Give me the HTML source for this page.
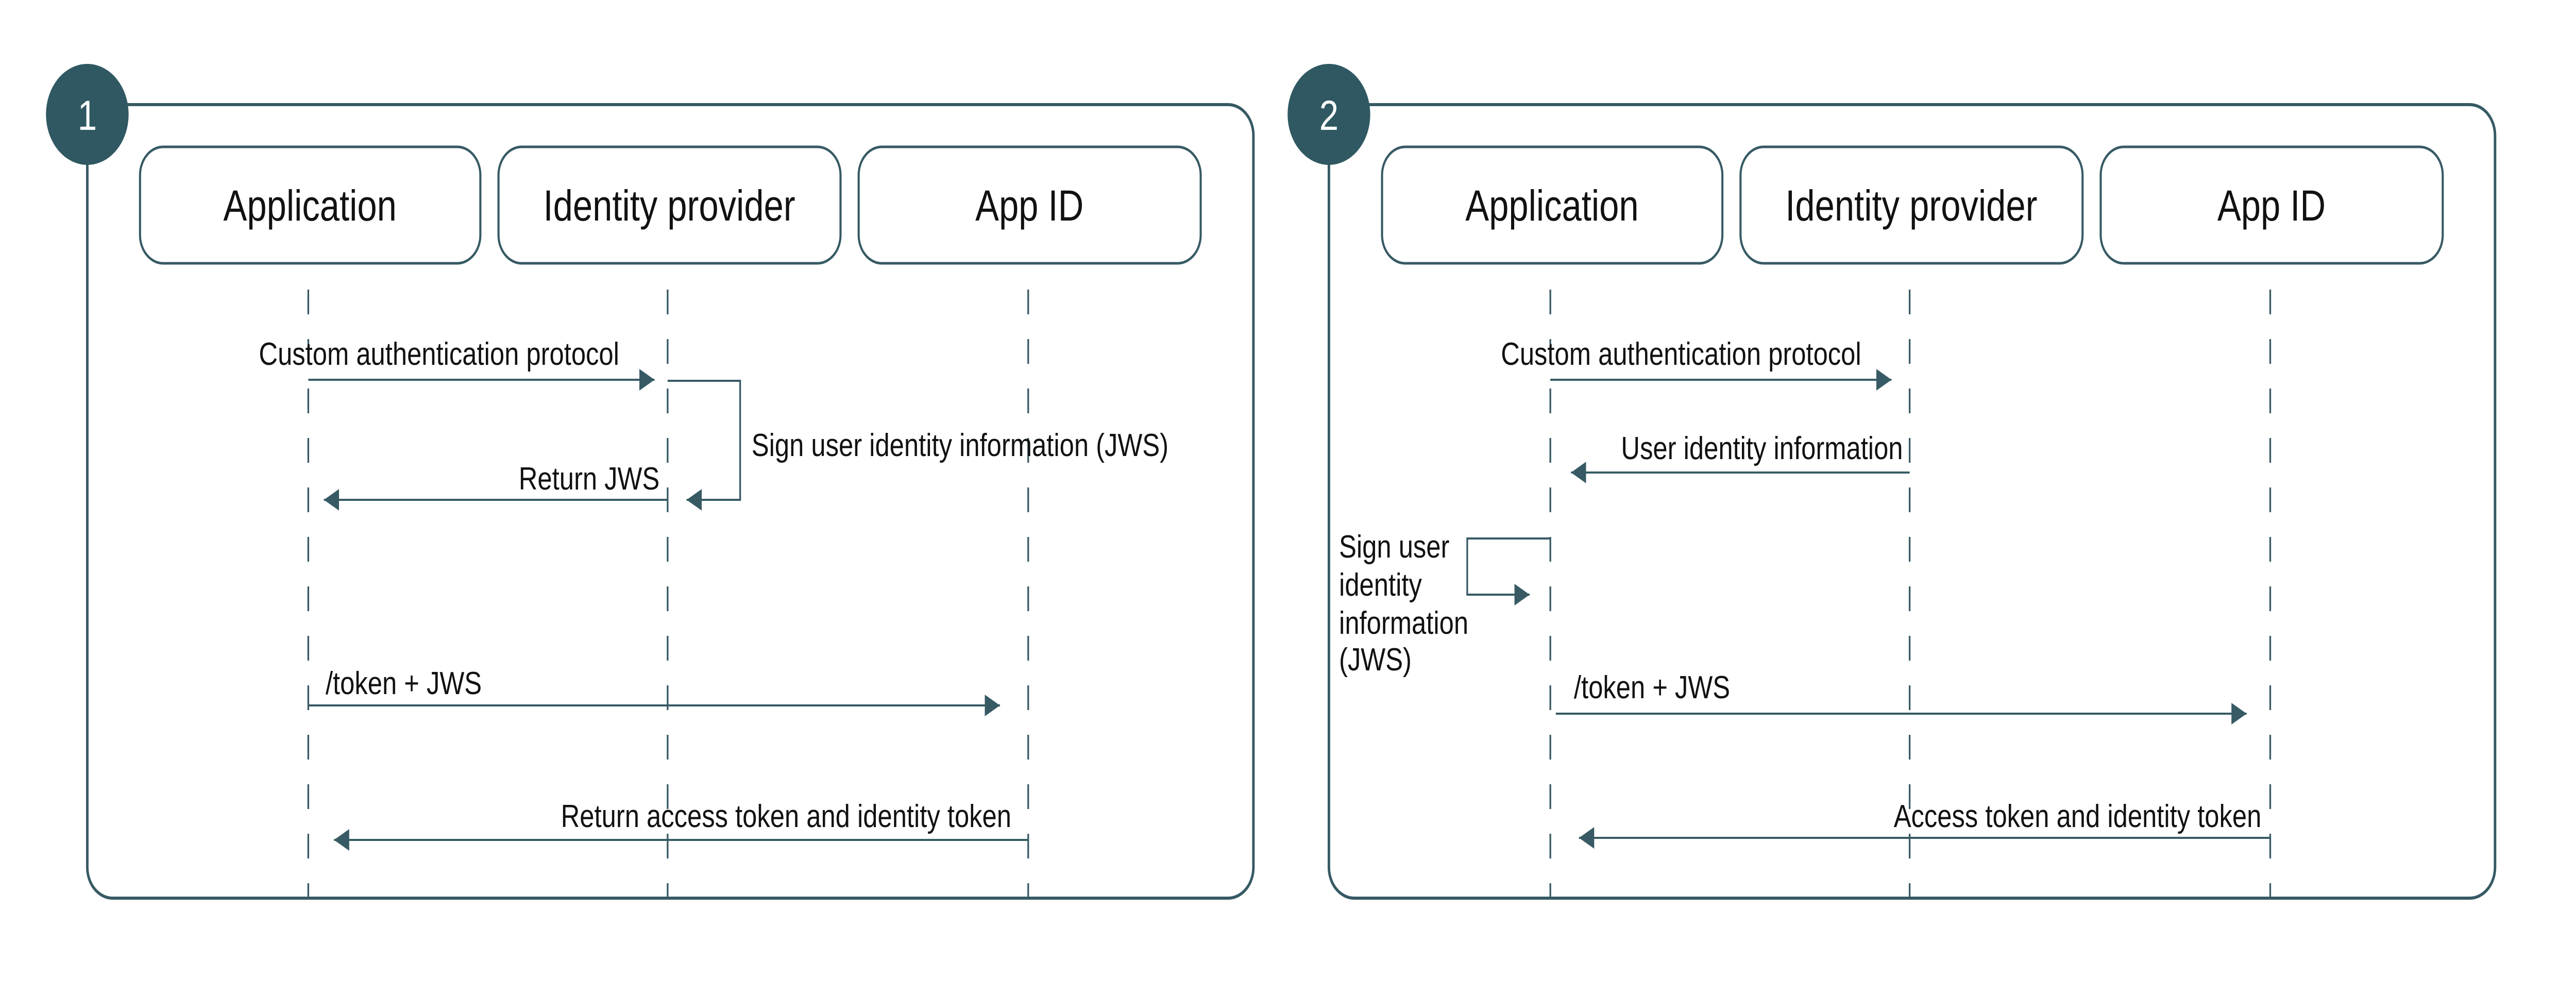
<!DOCTYPE html>
<html><head><meta charset="utf-8"><style>
html,body{margin:0;padding:0;background:#fff;width:100%;height:100%;overflow:hidden;}
svg{display:block;width:100vw;height:100vh;}
text{font-family:"Liberation Sans",sans-serif;fill:#111;}
</style></head><body>
<svg viewBox="0 0 6108 1929" preserveAspectRatio="none" xmlns="http://www.w3.org/2000/svg">
<defs>
<marker id="a" markerWidth="36" markerHeight="42" refX="36" refY="21" orient="auto" markerUnits="userSpaceOnUse"><path d="M0,0 L36,21 L0,42 Z" fill="#375a64"/></marker>
</defs>
<g fill="none" stroke="#375a64">
<rect x="207" y="203" width="2765" height="1540" rx="60" stroke-width="6"/>
<rect x="332" y="285" width="807" height="226" rx="55" stroke-width="5"/>
<rect x="1182" y="285" width="811" height="226" rx="55" stroke-width="5"/>
<rect x="2036" y="285" width="811" height="226" rx="55" stroke-width="5"/>
<g stroke-width="4" stroke-dasharray="48 48">
<line x1="731" y1="562" x2="731" y2="1743"/>
<line x1="1583" y1="562" x2="1583" y2="1743"/>
<line x1="2438" y1="562" x2="2438" y2="1743"/>
</g>
<g stroke-width="4">
<line x1="731" y1="737" x2="1552" y2="737" marker-end="url(#a)"/>
<polyline points="1583,739 1755,739 1755,970 1628,970" marker-end="url(#a)"/>
<line x1="1583" y1="970" x2="768" y2="970" marker-end="url(#a)"/>
<line x1="731" y1="1369" x2="2371" y2="1369" marker-end="url(#a)"/>
<line x1="2438" y1="1630" x2="792" y2="1630" marker-end="url(#a)"/>
</g>
<rect x="3151" y="203" width="2765" height="1540" rx="60" stroke-width="6"/>
<rect x="3277" y="285" width="807" height="226" rx="55" stroke-width="5"/>
<rect x="4127" y="285" width="811" height="226" rx="55" stroke-width="5"/>
<rect x="4981" y="285" width="811" height="226" rx="55" stroke-width="5"/>
<g stroke-width="4" stroke-dasharray="48 48">
<line x1="3676" y1="562" x2="3676" y2="1743"/>
<line x1="4528" y1="562" x2="4528" y2="1743"/>
<line x1="5383" y1="562" x2="5383" y2="1743"/>
</g>
<g stroke-width="4">
<line x1="3676" y1="737" x2="4485" y2="737" marker-end="url(#a)"/>
<line x1="4528" y1="917" x2="3725" y2="917" marker-end="url(#a)"/>
<polyline points="3676,1045 3479,1045 3479,1154 3627,1154" marker-end="url(#a)"/>
<line x1="3689" y1="1385" x2="5327" y2="1385" marker-end="url(#a)"/>
<line x1="5383" y1="1626" x2="3744" y2="1626" marker-end="url(#a)"/>
</g>
</g>
<circle cx="207" cy="222" r="98" fill="#2f5862"/>
<circle cx="3151" cy="222" r="98" fill="#2f5862"/>
<text x="207" y="252" font-size="82" text-anchor="middle" style="fill:#fff">1</text>
<text x="3151" y="252" font-size="82" text-anchor="middle" style="fill:#fff">2</text>
<g font-size="84" text-anchor="middle">
<text x="735" y="428">Application</text>
<text x="1587" y="428">Identity provider</text>
<text x="2441" y="428">App ID</text>
<text x="3680" y="428">Application</text>
<text x="4532" y="428">Identity provider</text>
<text x="5386" y="428">App ID</text>
</g>
<g font-size="62">
<text x="1041" y="708" text-anchor="middle">Custom authentication protocol</text>
<text x="1564" y="950" text-anchor="end">Return JWS</text>
<text x="1782" y="885">Sign user identity information (JWS)</text>
<text x="772" y="1347">/token + JWS</text>
<text x="2398" y="1605" text-anchor="end">Return access token  and identity token</text>
<text x="3986" y="708" text-anchor="middle">Custom authentication protocol</text>
<text x="4512" y="891" text-anchor="end">User identity information</text>
<text x="3175" y="1082">Sign user</text>
<text x="3175" y="1156">identity</text>
<text x="3175" y="1230">information</text>
<text x="3175" y="1301">(JWS)</text>
<text x="3732" y="1355">/token + JWS</text>
<text x="5362" y="1605" text-anchor="end">Access token  and identity token</text>
</g>
</svg>
</body></html>
